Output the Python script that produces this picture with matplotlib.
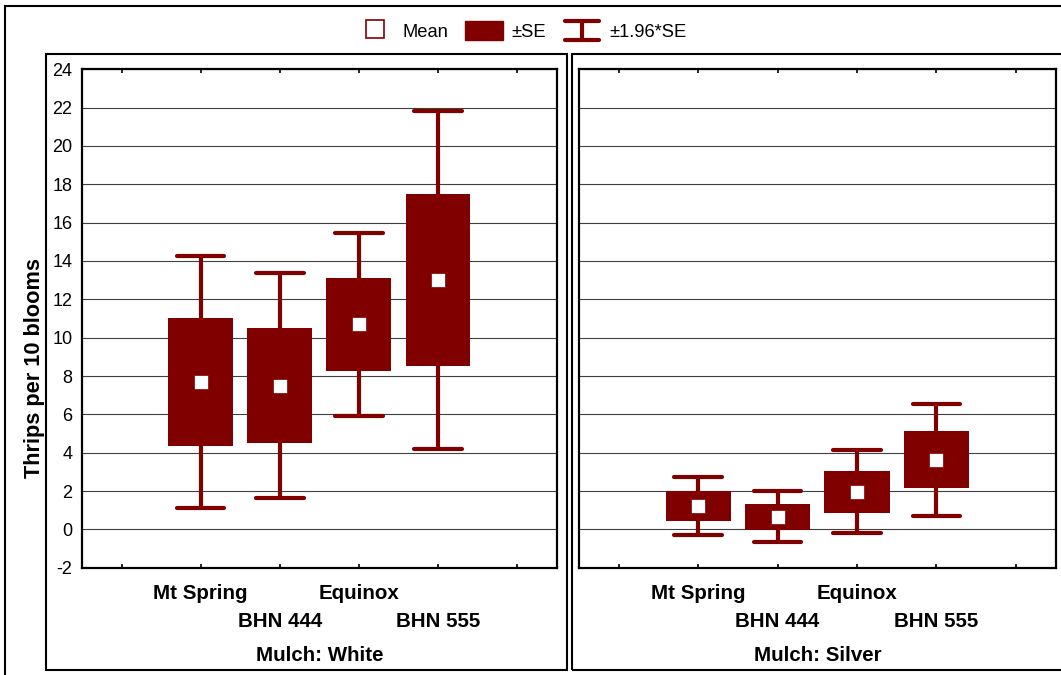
import numpy as np
import matplotlib
matplotlib.use('Agg')
import matplotlib.pyplot as plt
from matplotlib.lines import Line2D
from matplotlib.patches import Patch, Rectangle
from matplotlib.legend_handler import HandlerBase

plt.rcParams['font.family'] = ['Liberation Sans', 'DejaVu Sans']
plt.rcParams['axes.unicode_minus'] = False

# data
cultivars = ['Mt Spring', 'BHN 444', 'Equinox', 'BHN 555']
mulches = ['Mulch: White', 'Mulch: Silver']
white_mean = [7.7, 7.5, 10.7, 13.0]
white_se = [3.35, 3.0, 2.43, 4.5]
silver_mean = [1.22, 0.65, 1.97, 3.63]
silver_se = [0.77, 0.68, 1.10, 1.49]
y_ticks = list(range(-2, 25, 2))

red = '#800000'


class IBeamHandler(HandlerBase):
    # legend icon for the 1.96*SE whiskers
    def create_artists(self, legend, orig_handle, xdescent, ydescent,
                       width, height, fontsize, trans):
        x0, x1 = -xdescent + 1.5, -xdescent + width - 1.5
        y0, y1 = -ydescent, -ydescent + height
        xm = (x0 + x1) / 2
        kw = dict(color=red, lw=3, solid_capstyle='round', transform=trans)
        return [Line2D([x0, x1], [y1, y1], **kw),
                Line2D([x0, x1], [y0, y0], **kw),
                Line2D([xm, xm], [y0, y1], **kw)]


fig = plt.figure(figsize=(10.61, 6.75), dpi=100)
ax1 = fig.add_axes([82 / 1061, 1 - 567.7 / 675, (556.7 - 82) / 1061, (567.7 - 69.3) / 675])
ax2 = fig.add_axes([579 / 1061, 1 - 567.7 / 675, (1055.5 - 579) / 1061, (567.7 - 69.3) / 675])

positions = np.arange(2, 2 + len(cultivars))
tick_pos = np.arange(1, 7)
tick_labels = [''] + cultivars + ['']

for ax, means, ses, title in [(ax1, white_mean, white_se, mulches[0]),
                              (ax2, silver_mean, silver_se, mulches[1])]:
    means = np.array(means)
    ses = np.array(ses)
    lo = means - 1.96 * ses
    hi = means + 1.96 * ses
    ax.vlines(positions, lo, hi, color=red, lw=3, zorder=2)
    ax.hlines(np.concatenate([lo, hi]), np.tile(positions, 2) - 0.3,
              np.tile(positions, 2) + 0.3, color=red, lw=3,
              capstyle='round', zorder=2)
    ax.bar(positions, 2 * ses, bottom=means - ses, width=0.82,
           color=red, zorder=3)
    ax.plot(positions, means, 's', color='white', markersize=9.5,
            mec=red, mew=0.5, zorder=4)

    ax.set_xlim(0.5, 6.5)
    ax.set_ylim(-2, 24)
    ax.set_yticks(y_ticks)
    ax.yaxis.grid(True, color='#404040', lw=0.8)
    ax.set_axisbelow(True)
    ax.set_xticks(tick_pos)
    ax.set_xticklabels(tick_labels, fontsize=14.8, fontweight='bold')
    ax.tick_params(axis='x', direction='in', length=3, width=1.2, top=True)
    ax.tick_params(axis='y', length=0, labelsize=13, pad=7)
    for i, t in enumerate(ax.xaxis.get_major_ticks()):
        t.set_pad(12 if i % 2 == 1 else 32)
    ax.set_xlabel(title, fontsize=14.8, fontweight='bold', labelpad=11)
    for s in ax.spines.values():
        s.set_linewidth(1.6)

ax2.tick_params(axis='y', labelleft=False)
ax1.set_ylabel('Thrips per 10 blooms', fontsize=15.7, fontweight='bold')
ax1.yaxis.set_label_coords(-0.077, 0.40)

# frames around the panels and the whole figure
frame_kw = dict(transform=fig.transFigure, fill=False, ec='black', lw=1.5)
fig.add_artist(Rectangle((4.5 / 1061, -0.1), 2, 1 - 5.5 / 675 + 0.1, **frame_kw))
fig.add_artist(Rectangle((45.5 / 1061, 1 - 670 / 675), (566.7 - 45.5) / 1061,
                         (670 - 54) / 675, **frame_kw))
fig.add_artist(Rectangle((571.7 / 1061, 1 - 670 / 675), 2,
                         (670 - 54) / 675, **frame_kw))

handles = [Line2D([], [], marker='s', ls='none', markersize=13,
                  mfc='white', mec=red, mew=1.2),
           Patch(color=red),
           Line2D([], [], color=red)]
fig.legend(handles, ['Mean', '\u00b1SE', '\u00b11.96*SE'],
           handler_map={handles[2]: IBeamHandler()},
           loc='center', bbox_to_anchor=(521.5 / 1061, 1 - 31 / 675),
           ncol=3, frameon=False, fontsize=13.2, handlelength=2.05,
           handleheight=1.2, handletextpad=0.5, columnspacing=0.9)

fig.savefig('out.png', dpi=100)
